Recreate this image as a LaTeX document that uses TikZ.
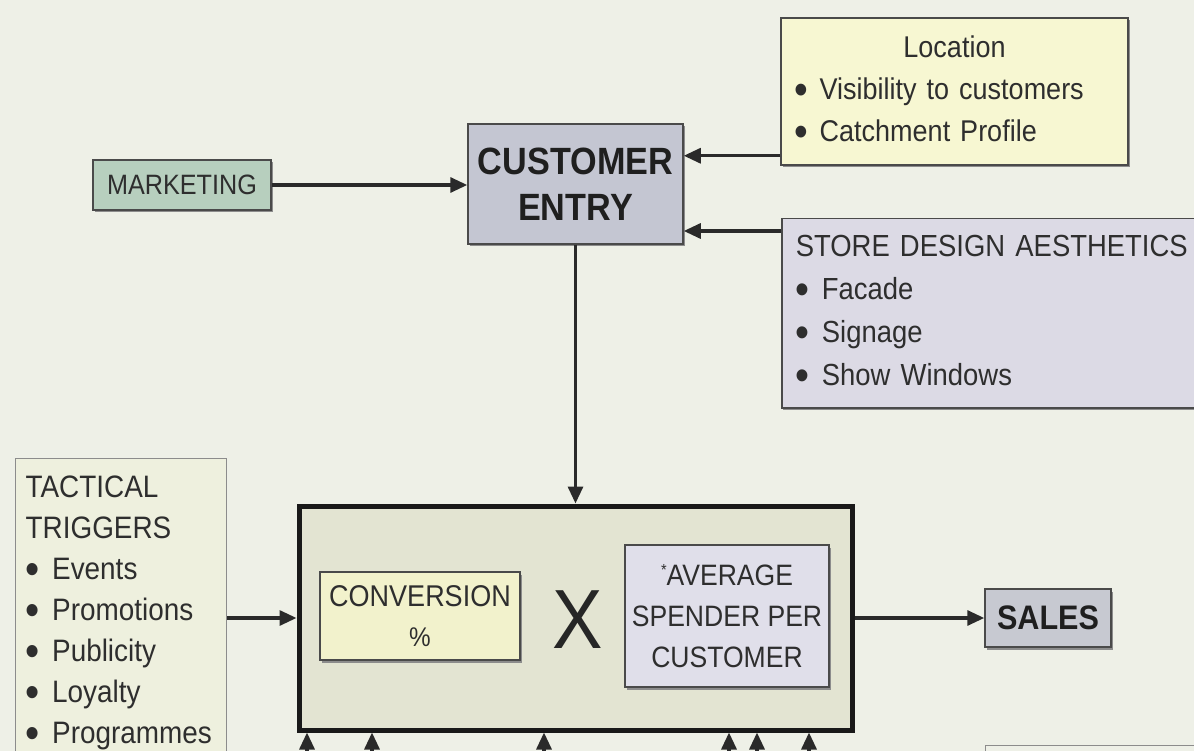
\documentclass[tikz,border=0pt]{standalone}
\usepackage{fontspec}
\setmainfont[FakeStretch=0.9]{Liberation Sans}
\usetikzlibrary{arrows.meta,calc}
\definecolor{bg}{HTML}{EEF0E7}
\definecolor{mktc}{HTML}{B7CFBE}
\definecolor{cec}{HTML}{C4C6D2}
\definecolor{locc}{HTML}{F7F7D2}
\definecolor{sdac}{HTML}{DCDAE5}
\definecolor{bigc}{HTML}{E3E4D2}
\definecolor{convc}{HTML}{F2F2CC}
\definecolor{avgc}{HTML}{E0DFEA}
\definecolor{salesc}{HTML}{C7C9D1}
\definecolor{ttc}{HTML}{EEF0DE}
\definecolor{bordc}{HTML}{4A4A4A}
\definecolor{txtc}{HTML}{2E2E2E}
\definecolor{arrc}{HTML}{2A2A2A}
\newcommand\fs[2]{\fontsize{#1}{#2}\selectfont}
\newcommand\bu{\raisebox{-0.17em}{\scalebox{1.45}{\textbullet}}\hspace{0.4em}}
\tikzset{
  box/.style={draw=bordc, line width=1.5pt, text=txtc, inner sep=0pt},
  shad/.style={preaction={fill=black!45, transform canvas={xshift=1.5pt,yshift=-2.5pt}}},
  arr/.style={draw=arrc, line width=3.2pt, -{Triangle[length=17pt,width=15pt]}},
}
\begin{document}
\begin{tikzpicture}[x=1pt,y=-1pt]
\useasboundingbox (0,0) rectangle (1194,751);
\clip (0,0) rectangle (1194,751);
\fill[bg] (0,0) rectangle (1194,751);

% nodes
\node[box, shad, fill=mktc, minimum width=178, minimum height=50, font=\fs{28}{30}] (mkt) at (182,185) {MARKETING};
\node[box, shad, fill=cec, minimum width=215, minimum height=120, align=center, text=black!88, font=\bfseries\fs{38}{46}] (ce) at (575.5,184) {CUSTOMER\\ENTRY};
\node[box, shad, fill=locc, minimum width=347, minimum height=147, text width=321, inner xsep=13, align=left, font=\fs{30}{42}] (loc) at (954.5,91.5) {\makebox[\linewidth][c]{Location}\\\bu Visibility to customers\\\bu Catchment Profile};
\node[box, shad, fill=sdac, anchor=north west, minimum height=189, text width=430, inner xsep=14, align=left, font=\fs{30.5}{43}] (sda) at (781,218) {STORE DESIGN AESTHETICS\\\bu Facade\\\bu Signage\\\bu Show Windows};
\node[box, fill=bigc, draw=black!90, line width=5pt, minimum width=553, minimum height=224] (big) at (575.5,618) {};
\node[box, shad, fill=convc, minimum width=200, minimum height=88, align=center, font=\fs{30}{40}] (conv) at (420,616) {CONVERSION\\{\fs{27}{27}\%}};
\node[text=black!85, font=\fs{84}{84}, inner sep=0pt] (x) at (578,620) {X};
\node[box, shad, fill=avgc, minimum width=204, minimum height=142, align=center, font=\fs{29.5}{41}] (avg) at (727,616) {{\fs{16}{16}\raisebox{10pt}{*}}AVERAGE\\SPENDER PER\\CUSTOMER};
\node[box, shad, fill=salesc, minimum width=126, minimum height=58, text=black!88, font=\bfseries\fs{34}{40}] (sales) at (1048,618) {SALES};
\node[box, draw=black!45, line width=1.2pt, fill=ttc, anchor=north west, text width=191, inner xsep=10, inner ysep=17, align=left, font=\fs{31}{41}] (tt) at (15,458) {TACTICAL\\TRIGGERS\\\bu Events\\\bu Promotions\\\bu Publicity\\\bu Loyalty\\\bu Programmes\\ \ };
\node[box, draw=black!45, line width=1.2pt, fill=bg, anchor=north west, minimum width=260, minimum height=60] (br) at (985,745) {};

% connectors
\draw[arr] (mkt.east) -- (mkt.east -| ce.west);
\draw[arr] ([yshift=10pt]loc.south west) -- ([yshift=10pt]loc.south west -| ce.east);
\draw[arr] ([yshift=-13pt]sda.north west) -- ([yshift=-13pt]sda.north west -| ce.east);
\draw[arr] (ce.south) -- (big.north);
\draw[arr] (tt.east |- big.west) -- (big.west);
\draw[arr] (big.east) -- (sales.west);

\foreach \i/\xx in {1/307,2/372,3/544,4/729,5/757,6/809}{
  \coordinate (b\i) at (\xx,770);
  \draw[arr] (b\i) -- (b\i |- big.south);
}
\end{tikzpicture}
\end{document}
